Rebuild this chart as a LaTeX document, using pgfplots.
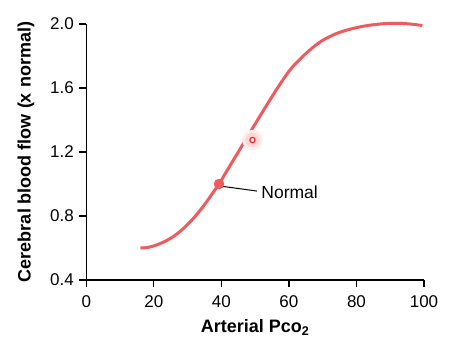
\documentclass[border=0pt]{standalone}
\usepackage{pgfplots}
\pgfplotsset{compat=1.18}
\usepackage{fontspec}
\setmainfont{Liberation Sans}
\definecolor{curvered}{HTML}{F05A5E}
\definecolor{glowred}{HTML}{FF2020}
\begin{document}
\begin{tikzpicture}
\begin{axis}[
  scale only axis, width=337.7pt, height=256pt,
  xmin=0, xmax=100, ymin=0.4, ymax=2.0,
  axis x line*=bottom, axis y line*=left,
  axis line style={line width=1.3pt, black},
  xtick={0,20,...,100}, ytick={0.4,0.8,1.2,1.6,2.0},
  tick align=outside, major tick length=7pt,
  tick style={line width=1.3pt, black},
  /pgf/number format/assume math mode=true,
  yticklabel style={/pgf/number format/fixed, /pgf/number format/fixed zerofill, /pgf/number format/precision=1, font=\fontsize{17}{19}\selectfont, xshift=-2pt},
  xticklabel style={font=\fontsize{17}{19}\selectfont, yshift=-5pt},
  xlabel={\textbf{Arterial Pco\textsubscript{2}}},
  ylabel={\textbf{Cerebral blood flow (x normal)}},
  xlabel style={font=\fontsize{18}{20}\selectfont, yshift=-5pt},
  ylabel style={font=\fontsize{18}{20}\selectfont, yshift=9pt},
  clip=false,
]
\path (rel axis cs:0,0) ++(-86.3pt,-74pt) rectangle ++(466pt,354pt);
\addplot[only marks, mark=*, mark size=10pt, mark options={draw=glowred!8, fill=glowred!8}] coordinates {(49.2,1.275)};
\addplot[only marks, mark=*, mark size=7pt, mark options={draw=glowred!18, fill=glowred!18}] coordinates {(49.2,1.275)};
\addplot[curvered, line width=3pt, smooth, tension=0.5] coordinates {
(16,0.600) (18,0.603) (20,0.613) (22,0.629) (24,0.649) (26,0.675) (28,0.708)
(30,0.747) (32,0.792) (34,0.843) (36,0.900) (38,0.961) (39.3,1.0) (42,1.095) (44,1.165) (47,1.27) (50,1.375) (53,1.478)
(56,1.58) (59,1.675) (61,1.73) (64,1.795) (67,1.852) (70,1.898) (74,1.94)
(78,1.967) (82,1.986) (86,1.998) (90,2.004) (94,2.003) (98,1.995) (99.5,1.99)
};
\draw[black, line width=1pt] (axis cs:40.5,0.985) -- (axis cs:50.5,0.956);
\node[anchor=west, font=\fontsize{17.5}{19}\selectfont, inner sep=1pt] at (axis cs:51.5,0.947) {Normal};
\addplot[only marks, mark=*, mark size=5pt, mark options={curvered, fill=curvered}] coordinates {(39.3,1.0)};
\addplot[only marks, mark=*, mark size=2.6pt, mark options={draw=glowred, fill=white, line width=1.2pt}] coordinates {(49.2,1.275)};
\end{axis}
\end{tikzpicture}
\end{document}
